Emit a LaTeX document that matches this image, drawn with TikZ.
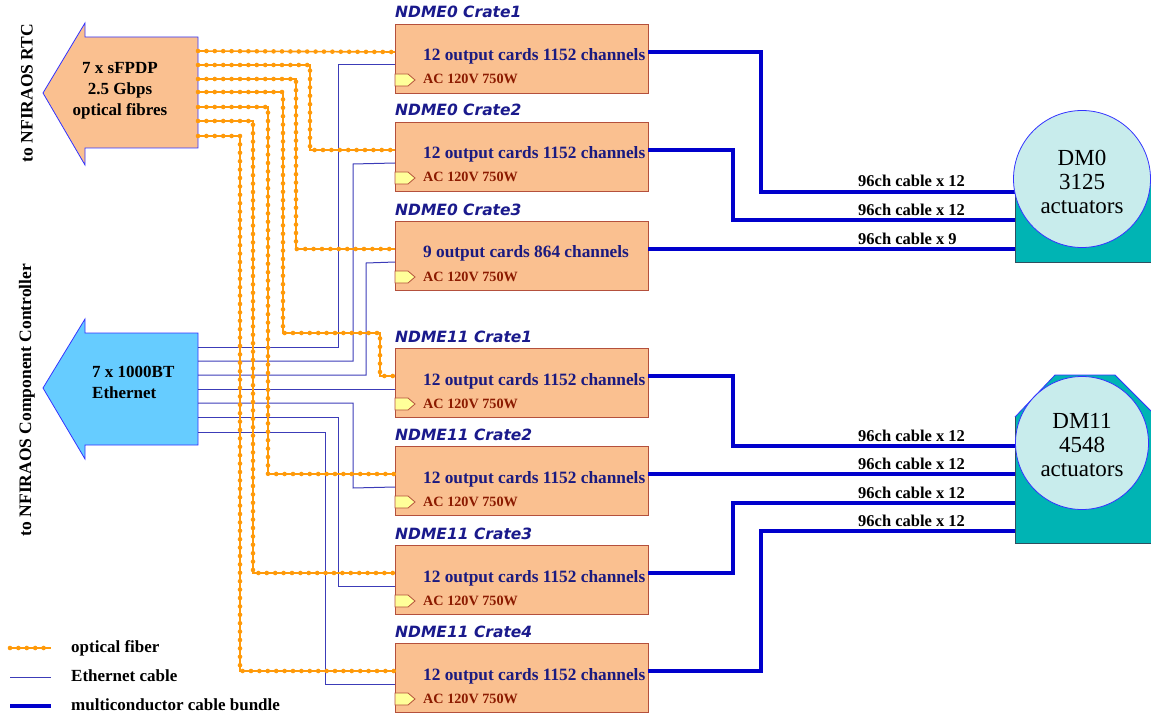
\documentclass[tikz,border=0pt]{standalone}
\usepackage{fontspec}
\setmainfont{Liberation Serif}
\newfontfamily\titlefont{DejaVu Sans}
\usetikzlibrary{calc}
\definecolor{peach}{HTML}{FAC090}
\definecolor{crateb}{HTML}{B4503C}
\definecolor{fibc}{HTML}{FF9A0A}
\definecolor{ethc}{HTML}{3C3CB8}
\definecolor{cabc}{HTML}{0000CC}
\definecolor{navyt}{HTML}{1A1A80}
\definecolor{acred}{HTML}{8B1A00}
\definecolor{tagy}{HTML}{FFFF99}
\definecolor{skyb}{HTML}{66CCFF}
\definecolor{arrb}{HTML}{3333FF}
\definecolor{dmc}{HTML}{C8ECEC}
\definecolor{tealc}{HTML}{00B4B4}
\definecolor{titleb}{HTML}{1A1A8C}
\definecolor{dmedge}{HTML}{2F4F5F}
\begin{document}
\begin{tikzpicture}[x=1pt,y=-1pt,
  crate/.style={draw=crateb, fill=peach, line width=0.9pt, minimum width=253pt, minimum height=69pt, inner sep=0pt, anchor=north west},
  ctitle/.style={font=\titlefont\bfseries\itshape\fontsize{15.5}{18}\selectfont, text=titleb, anchor=base west, inner sep=0pt},
  ctext/.style={font=\bfseries\fontsize{17.3}{20}\selectfont, text=navyt, anchor=base west, inner sep=0pt},
  actext/.style={font=\bfseries\fontsize{14.2}{16}\selectfont, text=acred, anchor=base west, inner sep=0pt},
  tagshape/.style={draw=crateb, fill=tagy, line width=0.8pt},
  fiber/.style={draw=fibc, line width=1.6pt, postaction={draw=fibc, line width=4.6pt, line cap=round, dash pattern=on 0pt off 8.4pt}},
  eth/.style={draw=ethc, line width=1pt},
  cable/.style={draw=cabc, line width=3.6pt},
  clabel/.style={font=\bfseries\fontsize{16.5}{18}\selectfont, anchor=base west, inner sep=0pt},
  legendtxt/.style={font=\bfseries\fontsize{17}{19}\selectfont, anchor=base west, inner sep=0pt},
  side/.style={font=\bfseries\fontsize{17.5}{20}\selectfont, rotate=90, inner sep=0pt},
  arrtext/.style={font=\bfseries\fontsize{17}{21}\selectfont, inner sep=0pt},
  dmtext/.style={font=\fontsize{23}{24}\selectfont, align=center, inner sep=0pt},
  dmcirc/.style={circle, draw=arrb, fill=dmc, line width=0.8pt, inner sep=0pt},
  dmbody/.style={fill=tealc, draw=dmedge, line width=0.8pt}
]
\useasboundingbox (0,0) rectangle (1151,714);

% side labels
\node[side] (rtcside) at (27,93) {to NFIRAOS RTC};
\node[side] (ccside) at (27,400) {to NFIRAOS Component Controller};

% arrows
\draw[draw=arrb, fill=peach, line width=0.8pt] (198,37) -- (85,37) -- (85,23) -- (43,93) -- (85,165) -- (85,148) -- (198,148) -- cycle;
\node[arrtext, align=center] (rtctxt) at (120,91) {7 x sFPDP\\2.5 Gbps\\optical fibres};
\draw[draw=arrb, fill=skyb, line width=0.8pt] (198,333) -- (85,333) -- (85,319) -- (43,388) -- (85,459) -- (85,445) -- (198,445) -- cycle;
\node[arrtext, align=left, anchor=west] (ethtxt) at (92,382) {7 x 1000BT\\Ethernet};

% start coordinates
\foreach \k/\y in {1/51,2/65,3/79,4/92,5/107,6/121,7/136} {\coordinate (f\k) at (198,\y);}
\foreach \k/\y in {1/347,2/361,3/375,4/389,5/403,6/417,7/432} {\coordinate (e\k) at (198,\y);}

% crates
\foreach \i/\t/\ttl/\txt in {1/24/NDME0 Crate1/12 output cards 1152 channels,
  2/122/NDME0 Crate2/12 output cards 1152 channels,
  3/221/NDME0 Crate3/9 output cards 864 channels,
  4/348/NDME11 Crate1/12 output cards 1152 channels,
  5/446/NDME11 Crate2/12 output cards 1152 channels,
  6/545/NDME11 Crate3/12 output cards 1152 channels,
  7/643/NDME11 Crate4/12 output cards 1152 channels} {
  \node[crate] (c\i) at (395,\t) {};
  \node[ctitle] (t\i) at (395,\t-6) {\ttl};
  \node[ctext] (x\i) at (423,\t+37) {\txt};
  \draw[tagshape] (395,\t+50) -- (408,\t+50) -- (415,\t+56) -- (408,\t+62) -- (395,\t+62) -- cycle;
  \node[actext] (a\i) at (423,\t+60) {AC 120V 750W};
  \coordinate (ci\i) at (395,\t+28);
  \coordinate (ce\i) at (395,\t+41);
  \coordinate (m\i) at (648,\t+28);
}

% ethernet
\draw[eth] (e1) -| (338,65) -- (ce1);
\draw[eth] (e2) -| (353,164) -- (ce2);
\draw[eth] (e3) -| (366,263) -- (ce3);
\draw[eth] (e4) -- (ce4);
\draw[eth] (e5) -| (353,488) -- (ce5);
\draw[eth] (e6) -| (338,586) -- (ce6);
\draw[eth] (e7) -| (325,684) -- (ce7);

% fibers
\draw[fiber] (f1) -- (ci1);
\draw[fiber] (f2) -| (310,150) -- (ci2);
\draw[fiber] (f3) -| (296,249) -- (ci3);
\draw[fiber] (f4) -| (283,333) -| (380,376) -- (ci4);
\draw[fiber] (f5) -| (268,474) -- (ci5);
\draw[fiber] (f6) -| (253,573) -- (ci6);
\draw[fiber] (f7) -| (240,671) -- (ci7);

% DM end coordinates
\coordinate (d0a) at (1015,192);
\coordinate (d0b) at (1015,220);
\coordinate (d0c) at (1015,249);
\coordinate (d1a) at (1015,446);
\coordinate (d1b) at (1015,474);
\coordinate (d1c) at (1015,503);
\coordinate (d1d) at (1015,531);

% cables
\draw[cable] (m1) -| (761,192) -- (d0a);
\draw[cable] (m2) -| (733,220) -- (d0b);
\draw[cable] (m3) -- (d0c);
\draw[cable] (m4) -| (733,446) -- (d1a);
\draw[cable] (m5) -- (d1b);
\draw[cable] (m6) -| (733,503) -- (d1c);
\draw[cable] (m7) -| (761,531) -- (d1d);

% cable labels
\node[clabel] (l1) at (858,187) {96ch cable x 12};
\node[clabel] (l2) at (858,215) {96ch cable x 12};
\node[clabel] (l3) at (858,244) {96ch cable x 9};
\node[clabel] (l4) at (858,441) {96ch cable x 12};
\node[clabel] (l5) at (858,469) {96ch cable x 12};
\node[clabel] (l6) at (858,498) {96ch cable x 12};
\node[clabel] (l7) at (858,526) {96ch cable x 12};

% DM0
\draw[dmbody] (1015,180) rectangle (1151,262);
\node[dmcirc, minimum size=137pt] (dm0) at (1082,179) {};
\node[dmtext] (dm0t) at (1082,182) {DM0\\3125\\actuators};

% DM11
\fill[tealc] (1015,543) -- (1015,417) -- (1055,375) -- (1115,375) -- (1151,411) -- (1151,543) -- cycle;
\draw[draw=dmedge, line width=0.8pt] (1151,543) -- (1015,543) -- (1015,417);
\draw[draw=arrb, line width=0.8pt] (1015,417) -- (1055,375) -- (1115,375) -- (1151,411);
\node[dmcirc, minimum size=133pt] (dm11) at (1082,443) {};
\node[dmtext] (dm11t) at (1082,445) {DM11\\4548\\actuators};

% legend
\coordinate (lg1a) at (10,648); \coordinate (lg1b) at (51,648);
\coordinate (lg2a) at (10,677); \coordinate (lg2b) at (51,677);
\coordinate (lg3a) at (10,706); \coordinate (lg3b) at (51,706);
\draw[fiber] (lg1a) -- (lg1b);
\draw[eth] (lg2a) -- (lg2b);
\draw[cable] (lg3a) -- (lg3b);
\node[legendtxt] (lt1) at (71,652) {optical fiber};
\node[legendtxt] (lt2) at (71,681) {Ethernet cable};
\node[legendtxt] (lt3) at (71,710) {multiconductor cable bundle};
\end{tikzpicture}
\end{document}
